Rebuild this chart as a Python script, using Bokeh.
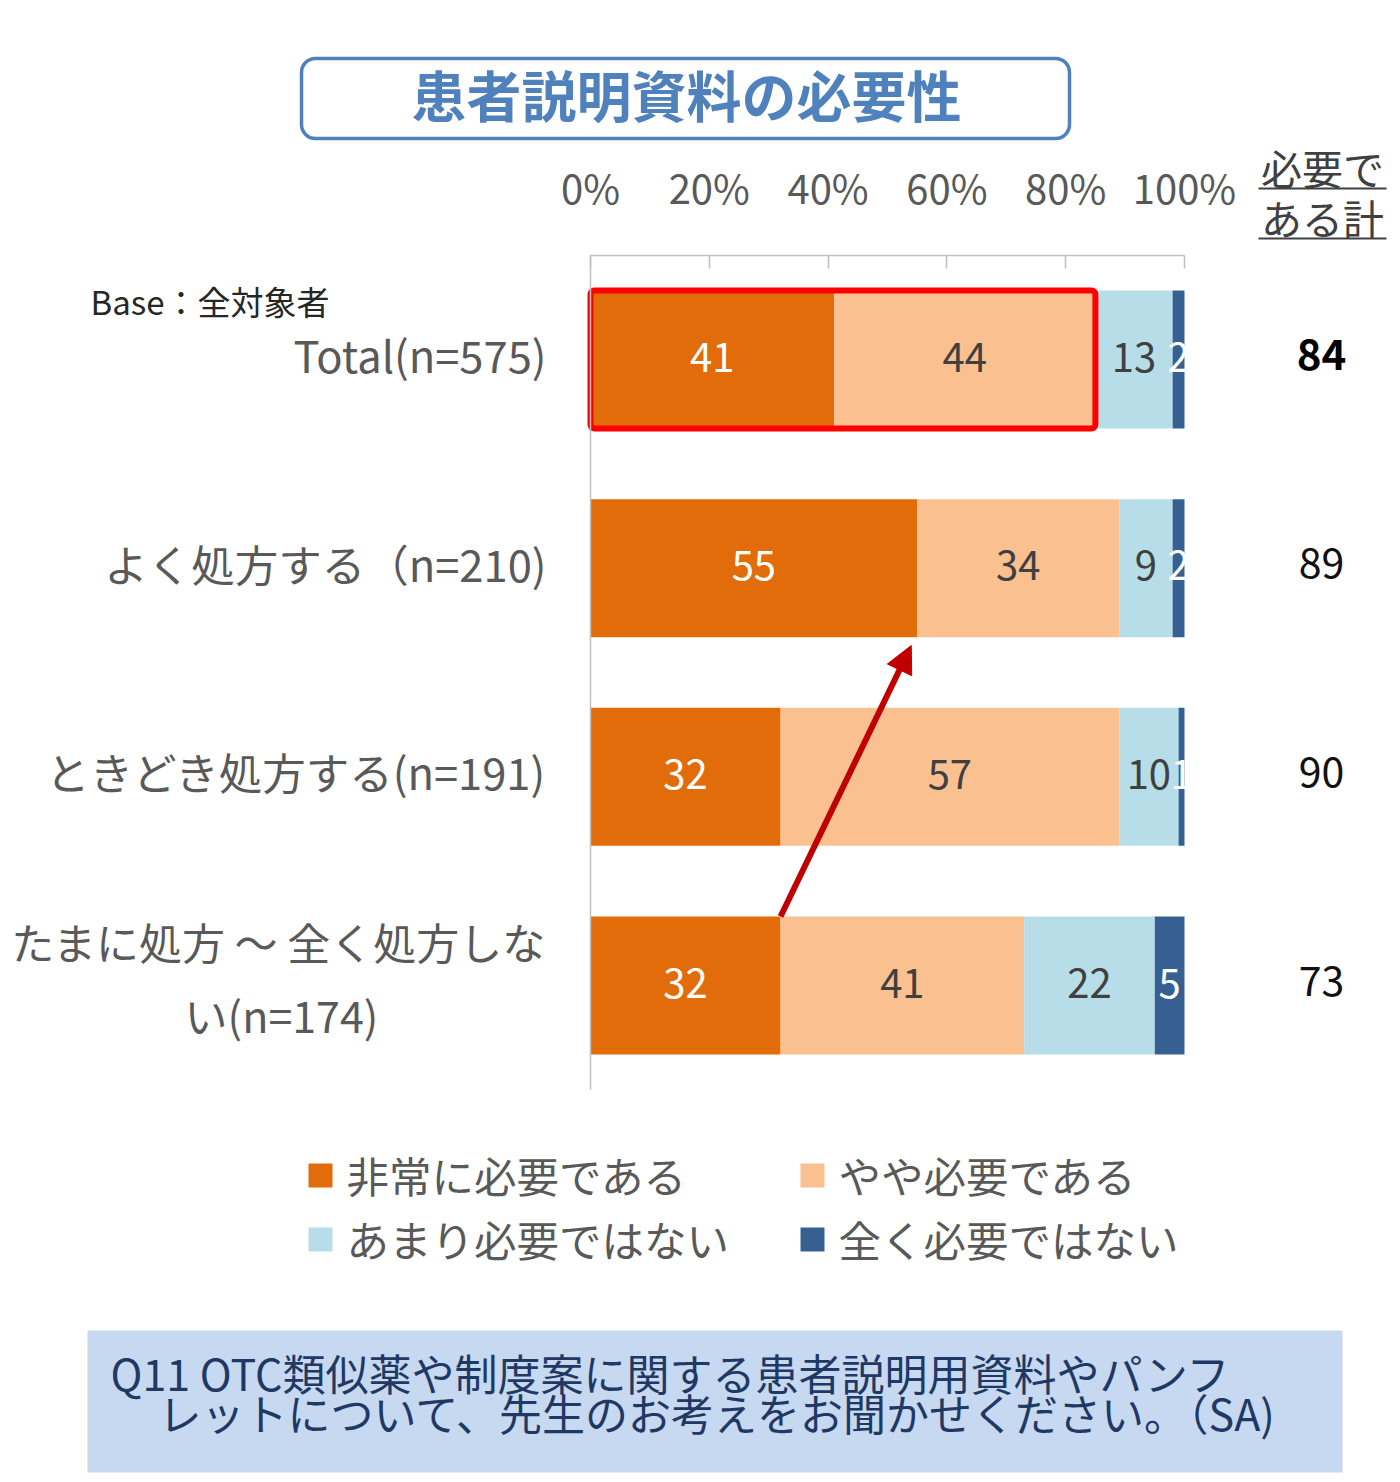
import numpy as np
from bokeh.plotting import figure
from bokeh.models import ColumnDataSource, Range1d, LinearAxis, FixedTicker, Arrow, NormalHead
from bokeh.core.properties import value
from bokeh.embed import file_html
from bokeh.resources import INLINE

# ---------------- data ----------------
TITLE = "患者説明資料の必要性"
BASE_NOTE = "Base：全対象者"
CATEGORIES = [
    "Total(n=575)",
    "よく処方する（n=210)",
    "ときどき処方する(n=191)",
    "たまに処方 ～ 全く処方しな\nい(n=174)",
]
SERIES = ["非常に必要である", "やや必要である", "あまり必要ではない", "全く必要ではない"]
VERY = [41, 55, 32, 32]
SOMEWHAT = [44, 34, 57, 41]
NOT_MUCH = [13, 9, 10, 22]
NOT_AT_ALL = [2, 2, 1, 5]
NEED_TOTAL = [84, 89, 90, 73]
NEED_HEADER = ["必要で", "ある計"]
TICKS = [0, 20, 40, 60, 80, 100]
TICK_LABELS = ["0%", "20%", "40%", "60%", "80%", "100%"]
QUESTION = [
    "Q11  OTC類似薬や制度案に関する患者説明用資料やパンフ",
    "レットについて、先生のお考えをお聞かせください。（SA)",
]

# ---------------- styles / layout ----------------
COLORS = ["#E36C0A", "#FAC090", "#B7DDE8", "#376092"]
LABEL_COLORS = ["#FFFFFF", "#404040", "#404040", "#FFFFFF"]
AXIS_GRAY = "#BFBFBF"
TEXT_GRAY = "#595959"
TITLE_BLUE = "#4F81BD"
ARROW_RED = "#C00000"
FONT = value("Noto Sans CJK JP")

W, H = 1392, 1474
OFF = 0
X0_PX, X100_PX = 590, 1184  # image x of 0% and 100%
ROW0_PX, ROW_STEP_PX = 359, 208.67
BAR_H = 138 / ROW_STEP_PX
TXT_DY = -5 / ROW_STEP_PX     # optical centring of text on a row


def xd(px):
    return (px - X0_PX) / (X100_PX - X0_PX) * 100.0


def yd(py):
    return (py - ROW0_PX) / ROW_STEP_PX


p = figure(width=W, height=H,
           x_range=Range1d(xd(OFF), xd(OFF + W)),
           y_range=Range1d(yd(OFF + H), yd(OFF)),
           x_axis_type=None, y_axis_type=None,
           toolbar_location=None, output_backend="svg", title=None,
           min_border_left=0, min_border_right=0, min_border_top=0, min_border_bottom=0)
p.outline_line_color = None
p.background_fill_color = "white"
p.border_fill_color = "white"
p.grid.visible = False

n = len(CATEGORIES)
rows = np.arange(n)

# ---------------- axes ----------------
xaxis = LinearAxis(fixed_location=-0.5, bounds=(0, 100), ticker=FixedTicker(ticks=TICKS),
                   major_label_overrides={t: l for t, l in zip(TICKS, TICK_LABELS)})
xaxis.axis_line_color = AXIS_GRAY
xaxis.axis_line_width = 1.5
xaxis.major_tick_line_color = AXIS_GRAY
xaxis.major_tick_line_width = 1.5
xaxis.major_tick_in = 13
xaxis.major_tick_out = 0
xaxis.minor_tick_line_color = None
xaxis.major_label_text_font = "Noto Sans CJK JP"
xaxis.major_label_text_font_size = "40px"
xaxis.major_label_text_color = TEXT_GRAY
xaxis.major_label_standoff = 39
p.add_layout(xaxis, "above")

yaxis = LinearAxis(fixed_location=0, bounds=(-0.5, n - 0.5), ticker=FixedTicker(ticks=[]))
yaxis.axis_line_color = AXIS_GRAY
yaxis.axis_line_width = 1.5
yaxis.major_tick_line_color = None
yaxis.minor_tick_line_color = None
yaxis.major_label_text_font_size = "0px"
p.add_layout(yaxis, "left")

# ---------------- title box ----------------
p.quad(left=xd(301), right=xd(1069), top=yd(58), bottom=yd(138),
       fill_color="white", line_color=TITLE_BLUE, line_width=3.5, border_radius=14)
p.text(x=[xd(686)], y=[yd(92)], text=[TITLE], text_font=FONT, text_font_size="55px",
       text_font_style="bold", text_color=TITLE_BLUE, text_align="center", text_baseline="middle")

# ---------------- stacked bars ----------------
vals = np.array([VERY, SOMEWHAT, NOT_MUCH, NOT_AT_ALL], dtype=float)
rights = np.cumsum(vals, axis=0)
lefts = rights - vals
for k in range(len(SERIES)):
    src = ColumnDataSource(dict(y=rows, ty=rows + TXT_DY * 0.5, left=lefts[k], right=rights[k],
                                mid=(lefts[k] + rights[k]) / 2,
                                lab=[str(int(v)) for v in vals[k]]))
    p.hbar(y="y", left="left", right="right", height=BAR_H, source=src,
           fill_color=COLORS[k], line_color=None)
    p.text(x="mid", y="ty", text="lab", source=src, text_font=FONT, text_font_size="40px",
           text_color=LABEL_COLORS[k], text_align="center", text_baseline="middle")

# ---------------- category labels ----------------
p.text(x=[xd(90)], y=[yd(300)], text=[BASE_NOTE], text_font=FONT, text_font_size="33px",
       text_color="#262626", text_align="left", text_baseline="middle")
for i, cat in enumerate(CATEGORIES):
    lines = cat.split("\n")
    if len(lines) == 1:
        p.text(x=[xd(546)], y=[i + TXT_DY], text=[lines[0]], text_font=FONT, text_font_size="43.5px",
               text_color=TEXT_GRAY, text_align="right", text_baseline="middle")
    else:
        p.text(x=[xd(546)], y=[i - 0.19 + TXT_DY], text=[lines[0]], text_font=FONT,
               text_font_size="43px", text_color=TEXT_GRAY, text_align="right",
               text_baseline="middle")
        p.text(x=[xd(281)], y=[i + 0.16 + TXT_DY], text=[lines[1]], text_font=FONT,
               text_font_size="43px", text_color=TEXT_GRAY, text_align="center",
               text_baseline="middle")

# ---------------- right column: 必要である計 ----------------
for j, h in enumerate(NEED_HEADER):
    py = 166 + j * 50
    p.text(x=[xd(1322)], y=[yd(py)], text=[h], text_font=FONT, text_font_size="41px",
           text_color="#404040", text_align="center", text_baseline="middle")
    p.segment(x0=[xd(1258)], x1=[xd(1386)], y0=[yd(py + 22)], y1=[yd(py + 22)],
              line_color="#404040", line_width=2)
p.text(x=[xd(1321)], y=[TXT_DY], text=[str(NEED_TOTAL[0])], text_font=FONT, text_font_size="42px",
       text_font_style="bold", text_color="#000000", text_align="center", text_baseline="middle")
p.text(x=[xd(1321)] * (n - 1), y=list(rows[1:] + TXT_DY), text=[str(v) for v in NEED_TOTAL[1:]],
       text_font=FONT, text_font_size="41px", text_color="#111111",
       text_align="center", text_baseline="middle")

# ---------------- highlight box and arrow ----------------
p.quad(left=[0], right=[VERY[0] + SOMEWHAT[0]], top=[-BAR_H / 2], bottom=[BAR_H / 2],
       fill_color=None, line_color="#FF0000", line_width=6, border_radius=4)
p.add_layout(Arrow(end=NormalHead(size=27, fill_color=ARROW_RED, line_color=ARROW_RED),
                   x_start=VERY[3], y_start=3 - BAR_H / 2,
                   x_end=VERY[1] - 1.0, y_end=1 + BAR_H / 2 + 0.04,
                   line_color=ARROW_RED, line_width=6))

# ---------------- legend ----------------
LEG_COL_PX = [320, 812]
LEG_ROW_PX = [1174, 1238]
for k, name in enumerate(SERIES):
    cx = LEG_COL_PX[k % 2]
    cy = LEG_ROW_PX[k // 2]
    p.scatter(x=[xd(cx)], y=[yd(cy + 1)], marker="square", size=24,
              fill_color=COLORS[k], line_color=None)
    p.text(x=[xd(cx + 26)], y=[yd(cy)], text=[name], text_font=FONT, text_font_size="42.5px",
           text_color=TEXT_GRAY, text_align="left", text_baseline="middle")

# ---------------- question box ----------------
p.quad(left=xd(87), right=xd(1342), top=yd(1330), bottom=yd(1472),
       fill_color="#C6D9F0", line_color=None)
p.text(x=[xd(110)], y=[yd(1371)], text=[QUESTION[0]], text_font=FONT, text_font_size="43px",
       text_color="#1F3864", text_align="left", text_baseline="middle")
p.text(x=[xd(158)], y=[yd(1411)], text=[QUESTION[1]], text_font=FONT, text_font_size="43px",
       text_color="#1F3864", text_align="left", text_baseline="middle")

with open("out.html", "w", encoding="utf-8") as f:
    f.write(file_html(p, INLINE))
